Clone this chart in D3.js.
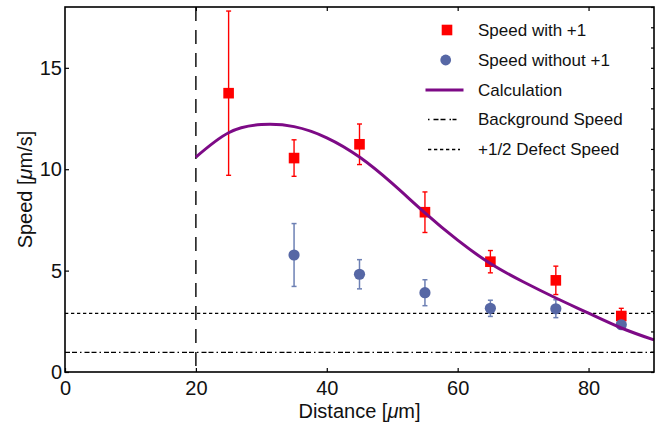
<!DOCTYPE html>
<html>
<head>
<meta charset="utf-8">
<script src="https://cdn.jsdelivr.net/npm/d3@7"></script>
<style>
    body { margin: 0; background: #fff; }
    svg { font-family: 'Liberation Sans', Arial, sans-serif; }
    .axis text { font-size: 20px; fill: #111; }
    .axis-title { font-size: 20px; fill: #111; }
    .legend text { font-size: 17px; fill: #111; }
</style>
</head>
<body>
<div id="chart"></div>
<script>
'use strict';

/* Speed vs distance plot: measured points with error bars, a calculated curve
   and two reference speeds.
*/

// Data
const distancesWith = [25, 35, 45, 55, 65, 75, 85];
const speedWith = [13.75, 10.55, 11.23, 7.88, 5.44, 4.52, 2.76];
const speedWithErr = [4.05, 0.9, 1.0, 1.0, 0.55, 0.7, 0.38];

const distancesWithout = [35, 45, 55, 65, 75, 85];
const speedWithout = [5.77, 4.82, 3.91, 3.14, 3.12, 2.33];
const speedWithoutErr = [1.55, 0.72, 0.64, 0.4, 0.44, 0.2];

const calcDistance = [20, 25, 30, 35, 40, 45, 50, 55, 60, 65, 70, 75, 80, 85, 90];
const calcSpeed = [10.6, 11.8, 12.2, 12.1, 11.55, 10.6, 9.3, 7.85, 6.5, 5.35, 4.45, 3.65, 2.9, 2.17, 1.58];

const backgroundSpeed = 0.97;
const defectSpeed = 2.89;
const cutoffDistance = 20;

const xDomain = [0, 90];
const yDomain = [0, 18];
const xTicks = [0, 20, 40, 60, 80];
const yTicks = [0, 5, 10, 15];
const yMinorTicks = d3.range(0, 19, 1);

const legendLabels = ['Speed with +1', 'Speed without +1', 'Calculation', 'Background Speed', '+1/2 Defect Speed'];

const palette = {
    withDefect: '#ff0000',
    withoutDefect: '#5667a5',
    withoutErr: '#6d80b4',
    calc: '#7d0a86'
};

const width = 663, height = 430;
const margins = { left: 65, right: 9, top: 7, bottom: 58 };
const chartWidth = width - margins.left - margins.right;
const chartHeight = height - margins.top - margins.bottom;

const svg = d3.select('#chart').append('svg')
    .attr('width', width)
    .attr('height', height);

const chart = svg.append('g')
    .attr('transform', `translate(${margins.left}, ${margins.top})`);

const scaleX = d3.scaleLinear().domain(xDomain).range([0, chartWidth]);
const scaleY = d3.scaleLinear().domain(yDomain).range([chartHeight, 0]);

// Reference lines
chart.append('line')
    .attr('x1', 0).attr('x2', chartWidth)
    .attr('y1', scaleY(defectSpeed)).attr('y2', scaleY(defectSpeed))
    .attr('stroke', '#000').attr('stroke-width', 1.3)
    .attr('stroke-dasharray', '3.3,2.7');

chart.append('line')
    .attr('x1', 0).attr('x2', chartWidth)
    .attr('y1', scaleY(backgroundSpeed)).attr('y2', scaleY(backgroundSpeed))
    .attr('stroke', '#000').attr('stroke-width', 1.3)
    .attr('stroke-dasharray', '5,2,5,3,1.5,3');

chart.append('line')
    .attr('x1', scaleX(cutoffDistance)).attr('x2', scaleX(cutoffDistance))
    .attr('y1', 0).attr('y2', chartHeight)
    .attr('stroke', '#000').attr('stroke-width', 1.4)
    .attr('stroke-dasharray', '14,9');

// Error bars helper
function drawErrorBars(cls, xs, ys, errs, color, width) {
    let rows = xs.map((x, i) => ({ x, y: ys[i], e: errs[i] }));
    let g = chart.append('g').classed(cls, true);
    g.selectAll('line.bar')
        .data(rows)
        .join('line')
        .classed('bar', true)
        .attr('x1', d => scaleX(d.x)).attr('x2', d => scaleX(d.x))
        .attr('y1', d => scaleY(d.y - d.e)).attr('y2', d => scaleY(d.y + d.e))
        .attr('stroke', color).attr('stroke-width', width);
    ['lo', 'hi'].forEach(side => {
        g.selectAll(`line.cap-${side}`)
            .data(rows)
            .join('line')
            .classed(`cap-${side}`, true)
            .attr('x1', d => scaleX(d.x) - 2.5).attr('x2', d => scaleX(d.x) + 2.5)
            .attr('y1', d => scaleY(side === 'lo' ? d.y - d.e : d.y + d.e))
            .attr('y2', d => scaleY(side === 'lo' ? d.y - d.e : d.y + d.e))
            .attr('stroke', color).attr('stroke-width', width);
    });
    return rows;
}

// Speed with +1: red squares
let rowsWith = drawErrorBars('err-with', distancesWith, speedWith, speedWithErr, palette.withDefect, 1.4);
chart.selectAll('rect.dot-with')
    .data(rowsWith)
    .join('rect')
    .classed('dot-with', true)
    .attr('x', d => scaleX(d.x) - 5.3)
    .attr('y', d => scaleY(d.y) - 5.3)
    .attr('width', 10.6).attr('height', 10.6)
    .attr('fill', palette.withDefect);

// Speed without +1: blue dots
let rowsWithout = drawErrorBars('err-without', distancesWithout, speedWithout, speedWithoutErr, palette.withoutErr, 1.5);
chart.selectAll('circle.dot-without')
    .data(rowsWithout)
    .join('circle')
    .classed('dot-without', true)
    .attr('cx', d => scaleX(d.x))
    .attr('cy', d => scaleY(d.y))
    .attr('r', 5.6)
    .attr('fill', palette.withoutDefect);

// Calculated curve
let line = d3.line()
    .x((d, i) => scaleX(calcDistance[i]))
    .y(d => scaleY(d))
    .curve(d3.curveNatural);

chart.append('path')
    .datum(calcSpeed)
    .attr('d', line)
    .attr('fill', 'none')
    .attr('stroke', palette.calc)
    .attr('stroke-width', 3);

// Axes (ticks point inwards)
let axisBottom = svg.append('g')
    .classed('axis axis-x', true)
    .attr('transform', `translate(${margins.left}, ${margins.top + chartHeight})`)
    .call(d3.axisBottom(scaleX).tickValues(xTicks).tickSizeInner(-4).tickSizeOuter(0).tickPadding(9));

let axisLeft = svg.append('g')
    .classed('axis axis-y', true)
    .attr('transform', `translate(${margins.left}, ${margins.top})`)
    .call(d3.axisLeft(scaleY).tickValues(yTicks).tickSizeInner(-4).tickSizeOuter(0).tickPadding(3));

let axisTop = svg.append('g')
    .attr('transform', `translate(${margins.left}, ${margins.top})`)
    .call(d3.axisTop(scaleX).tickValues(xTicks.slice(1)).tickSizeInner(-4).tickSizeOuter(0).tickFormat(''));

let axisRight = svg.append('g')
    .attr('transform', `translate(${margins.left + chartWidth}, ${margins.top})`)
    .call(d3.axisRight(scaleY).tickValues(yMinorTicks).tickSizeInner(-3).tickSizeOuter(0).tickFormat(''));

[axisBottom, axisLeft, axisTop, axisRight].forEach(a => {
    a.select('.domain').remove();
    a.selectAll('.tick line').attr('stroke', '#000').attr('stroke-width', 1.2);
});

// Frame
chart.append('rect')
    .attr('width', chartWidth).attr('height', chartHeight)
    .attr('fill', 'none')
    .attr('stroke', '#000')
    .attr('stroke-width', 1.6);

// Axis titles
let labelX = svg.append('text')
    .classed('axis-title', true)
    .attr('x', margins.left + chartWidth / 2)
    .attr('y', 418)
    .attr('text-anchor', 'middle');
labelX.append('tspan').text('Distance [');
labelX.append('tspan').style('font-style', 'italic').text('μ');
labelX.append('tspan').text('m]');

let labelY = svg.append('text')
    .classed('axis-title', true)
    .attr('transform', `translate(32, ${margins.top + chartHeight / 2}) rotate(-90)`)
    .attr('text-anchor', 'middle');
labelY.append('tspan').text('Speed [');
labelY.append('tspan').style('font-style', 'italic').text('μ');
labelY.append('tspan').text('m/s]');

// Legend
let legend = svg.append('g').classed('legend', true);
let legendY = [30, 60, 90, 119.5, 149.5];

legend.selectAll('text')
    .data(legendLabels)
    .join('text')
    .attr('x', 478)
    .attr('y', (d, i) => legendY[i])
    .attr('dy', '0.35em')
    .text(d => d);

legend.append('rect')
    .attr('x', 447 - 5.3).attr('y', legendY[0] - 5.3)
    .attr('width', 10.6).attr('height', 10.6)
    .attr('fill', palette.withDefect);
legend.append('circle')
    .attr('cx', 445.7).attr('cy', legendY[1]).attr('r', 5.4)
    .attr('fill', palette.withoutDefect);
legend.append('line')
    .attr('x1', 425.5).attr('x2', 463.5)
    .attr('y1', legendY[2]).attr('y2', legendY[2])
    .attr('stroke', palette.calc).attr('stroke-width', 3);
legend.append('line')
    .attr('x1', 428).attr('x2', 460)
    .attr('y1', legendY[3]).attr('y2', legendY[3])
    .attr('stroke', '#000').attr('stroke-width', 1.3)
    .attr('stroke-dasharray', '1.5,4,5,2,5,4,1.5');
legend.append('line')
    .attr('x1', 428).attr('x2', 460)
    .attr('y1', legendY[4]).attr('y2', legendY[4])
    .attr('stroke', '#000').attr('stroke-width', 1.3)
    .attr('stroke-dasharray', '3.3,2.7');
</script>
</body>
</html>
